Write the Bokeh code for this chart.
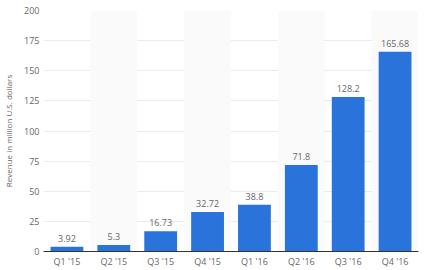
from bokeh.plotting import figure
from bokeh.models import ColumnDataSource, FactorRange, Range1d, FixedTicker
from bokeh.core.properties import value
from bokeh.embed import file_html
from bokeh.resources import INLINE

categories = ["Q1 '15", "Q2 '15", "Q3 '15", "Q4 '15", "Q1 '16", "Q2 '16", "Q3 '16", "Q4 '16"]
revenue = [3.92, 5.3, 16.73, 32.72, 38.8, 71.8, 128.2, 165.68]
labels = ["3.92", "5.3", "16.73", "32.72", "38.8", "71.8", "128.2", "165.68"]
y_ticks = [0, 25, 50, 75, 100, 125, 150, 175, 200]

p = figure(x_range=FactorRange(*categories), y_range=Range1d(0, 200),
           width=429, height=270, output_backend="svg", toolbar_location=None,
           min_border_left=38, min_border_right=11, min_border_top=10, min_border_bottom=18)

band_cats = categories[1::2]
p.vbar(x=band_cats, top=[200] * len(band_cats), bottom=0, width=1.0,
       fill_color="#fafafa", line_color=None)

src = ColumnDataSource(dict(x=categories, top=revenue, label=labels))
p.vbar(x="x", top="top", width=0.7, source=src, fill_color="#2a73db", line_color=None)
p.text(x="x", y="top", text="label", source=src, text_align="center", text_baseline="bottom",
       y_offset=-5, text_font=value("Open Sans"), text_font_size="9px", text_color="#666666")

p.outline_line_color = None
p.xgrid.grid_line_color = None
p.ygrid.grid_line_color = "#ebebeb"
p.ygrid.ticker = FixedTicker(ticks=y_ticks)

p.yaxis.ticker = FixedTicker(ticks=y_ticks)
p.yaxis.axis_line_color = None
p.yaxis.major_tick_line_color = None
p.yaxis.minor_tick_line_color = None
p.yaxis.major_tick_out = 0
p.yaxis.major_tick_in = 0
p.yaxis.minor_tick_out = 0
p.yaxis.minor_tick_in = 0
p.yaxis.major_label_text_font = "Open Sans"
p.yaxis.major_label_text_font_size = "9px"
p.yaxis.major_label_text_color = "#666666"
p.yaxis.major_label_standoff = 4
p.yaxis.axis_label = "Revenue in million U.S. dollars"
p.yaxis.axis_label_text_font = "Open Sans"
p.yaxis.axis_label_text_font_size = "8px"
p.yaxis.axis_label_text_font_style = "normal"
p.yaxis.axis_label_text_color = "#666666"
p.yaxis.axis_label_standoff = 7

p.xaxis.axis_line_color = "#333333"
p.xaxis.major_tick_line_color = None
p.xaxis.minor_tick_line_color = None
p.xaxis.major_tick_out = 0
p.xaxis.major_tick_in = 0
p.xaxis.minor_tick_out = 0
p.xaxis.minor_tick_in = 0
p.xaxis.major_label_text_font = "Open Sans"
p.xaxis.major_label_text_font_size = "9px"
p.xaxis.major_label_text_color = "#666666"
p.xaxis.major_label_standoff = 3

open("out.html", "w").write(file_html(p, INLINE))
